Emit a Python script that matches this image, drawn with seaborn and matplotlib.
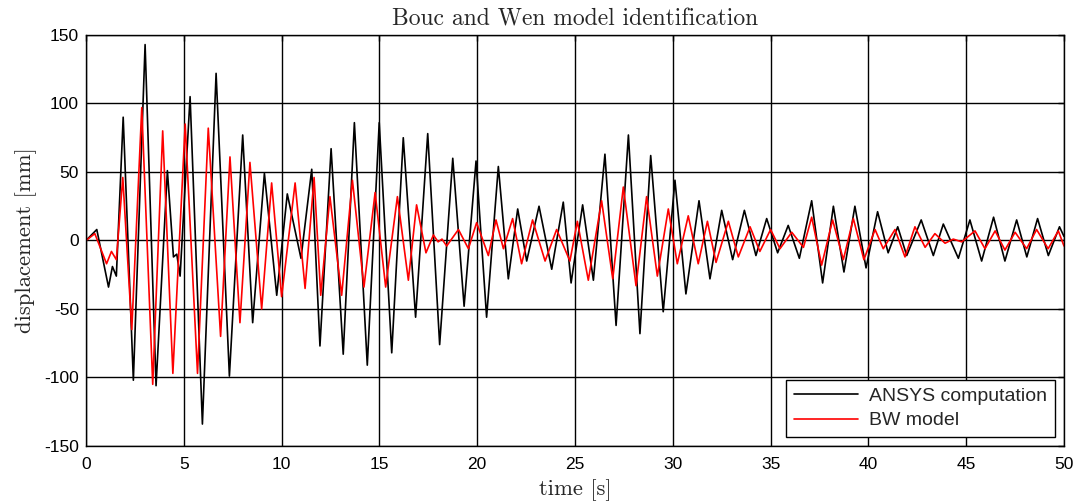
import matplotlib
matplotlib.use("Agg")
import matplotlib.pyplot as plt
import numpy as np
import pandas as pd
import seaborn as sns

# ANSYS computation (black): extrema
ansys_t = [0, 0.55, 1.15, 1.35, 1.55, 1.9, 2.42, 3.02, 3.58, 4.16, 4.47, 4.64, 4.81,
           5.32, 5.95, 6.65, 7.33, 8.01, 8.52, 9.12, 9.75, 10.29, 10.99, 11.54, 11.96,
           12.53, 13.15, 13.72, 14.38, 14.99, 15.63, 16.22, 16.85, 17.47, 18.08, 18.75,
           19.33, 19.94, 20.48, 21.08, 21.59, 22.07, 22.53, 23.16, 23.81, 24.4, 24.8,
           25.39, 25.94, 26.53, 27.1, 27.73, 28.32, 28.87, 29.51, 30.11, 30.67, 31.34,
           31.9, 32.5, 33.06, 33.66, 34.25, 34.8, 35.36, 35.9, 36.47, 37.1, 37.66, 38.21,
           38.75, 39.31, 39.88, 40.47, 41.01, 41.5, 41.96, 42.7, 43.32, 43.83, 44.6,
           45.19, 45.79, 46.4, 46.98, 47.58, 48.1, 48.65, 49.2, 49.77, 50.0]
ansys_v = [0, 8, -34, -19, -26, 90, -102, 143, -106, 51, -12, -10, -26,
           105, -134, 122, -99, 77, -60, 49, -40, 34, -13, 52, -77,
           67, -83, 86, -91, 86, -82, 75, -56, 78, -76, 60,
           -48, 58, -56, 54, -28, 23, -15, 25, -21, 28, -31,
           26, -29, 63, -62, 77, -68, 62, -52, 44, -39, 29,
           -28, 22, -14, 22, -11, 16, -9, 11, -13, 29, -31, 25,
           -23, 25, -20, 21, -9, 10, -11, 15, -11, 12, -13,
           15, -15, 17, -15, 15, -12, 16, -11, 10, 3]

# BW model (red): extrema
bw_t = [0, 0.45, 1.05, 1.3, 1.55, 1.88, 2.34, 2.85, 3.41, 3.92, 4.44, 5.07, 5.70,
        6.25, 6.88, 7.36, 7.87, 8.38, 8.98, 9.49, 10.0, 10.69, 11.2, 11.66, 12.0,
        12.47, 13.07, 13.62, 14.21, 14.78, 15.32, 15.92, 16.48, 16.9, 17.38, 17.76,
        18.0, 18.2, 18.44, 19.04, 19.55, 19.97, 20.57, 20.96, 21.34, 21.81, 22.27,
        22.83, 23.47, 24.06, 24.74, 25.12, 25.68, 26.36, 26.93, 27.47, 28.12, 28.66,
        29.21, 29.77, 30.23, 30.79, 31.3, 31.77, 32.21, 32.84, 33.35, 33.95, 34.45,
        35.0, 35.48, 36.08, 36.68, 37.1, 37.61, 38.17, 38.72, 39.23, 39.77, 40.34,
        40.76, 41.36, 41.87, 42.38, 42.9, 43.4, 43.92, 44.34, 44.77, 45.45, 45.96,
        46.48, 46.98, 47.5, 48.09, 48.6, 49.19, 49.71, 50.0]
bw_v = [0, 5, -17, -8, -14, 46, -65, 97, -105, 80, -97, 85, -97,
        82, -70, 61, -60, 57, -50, 42, -41, 42, -35, 46, -40,
        32, -40, 44, -34, 35, -34, 32, -29, 26, -9, 4,
        -1, 1, -4, 8, -6, 13, -11, 15, -6, 16, -17,
        15, -15, 8, -15, 14, -29, 29, -28, 39, -33, 32,
        -26, 23, -17, 18, -17, 14, -16, 14, -12, 10, -8,
        8, -6, 6, -5, 17, -18, 15, -14, 16, -14, 8,
        -6, 8, -12, 10, -5, 5, -2, 1, -1, 7, -6,
        7, -7, 6, -6, 8, -6, 7, -4]

x_ticks = [0, 5, 10, 15, 20, 25, 30, 35, 40, 45, 50]
y_ticks = [-150, -100, -50, 0, 50, 100, 150]

sns.set_style("white")
plt.rcParams["font.family"] = ["Liberation Sans", "DejaVu Sans"]
plt.rcParams["axes.unicode_minus"] = False

df = pd.concat([
    pd.DataFrame({"t": ansys_t, "v": ansys_v, "series": "ANSYS computation"}),
    pd.DataFrame({"t": bw_t, "v": bw_v, "series": "BW model"}),
], ignore_index=True)

fig = plt.figure(figsize=(10.78, 5.04), dpi=100)
ax = fig.add_axes([0.0798, 0.1151, 0.9072, 0.8155])

sns.lineplot(data=df, x="t", y="v", hue="series",
             palette={"ANSYS computation": "black", "BW model": "red"},
             estimator=None, sort=False, linewidth=1.2, ax=ax)

ax.set_xlim(0, 50)
ax.set_ylim(-150, 150)
ax.set_xticks(x_ticks)
ax.set_yticks(y_ticks)
ax.grid(True, color="black", linewidth=1.0, linestyle="-")
ax.set_axisbelow(True)
for s in ax.spines.values():
    s.set_color("black")
    s.set_linewidth(1.0)
    s.set_visible(True)
ax.tick_params(direction="in", length=4, width=1, colors="black",
               labelsize=12.5, top=True, right=True)
ax.tick_params(axis="x", pad=8)
ax.tick_params(axis="y", pad=5)

ax.set_title("Bouc and Wen model identification", fontfamily="cmr10",
             fontsize=17, pad=7)
ax.set_xlabel("time [s]", fontfamily="cmr10", fontsize=16.3, labelpad=5)
ax.set_ylabel("displacement [mm]", fontfamily="cmr10", fontsize=16.3, labelpad=5)

leg = ax.legend(loc="lower right", fontsize=14, frameon=True, fancybox=False,
                edgecolor="black", framealpha=1, handlelength=3.3,
                handletextpad=0.6, borderaxespad=0.45, borderpad=0.4,
                labelspacing=0.35)
leg.get_frame().set_linewidth(1.0)
leg.set_title(None)

fig.savefig("out.png", dpi=100)
